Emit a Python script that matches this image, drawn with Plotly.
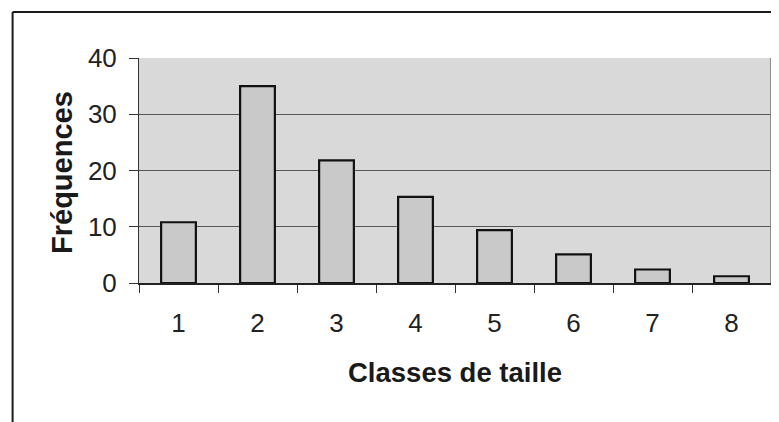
import plotly.graph_objects as go

categories = ["1", "2", "3", "4", "5", "6", "7", "8"]
frequences = [10.8, 35, 21.8, 15.3, 9.4, 5.1, 2.4, 1.2]
y_ticks = [0, 10, 20, 30, 40]

FONT = "Liberation Sans, Arial, sans-serif"

fig = go.Figure()
fig.add_trace(go.Bar(
    x=categories, y=frequences, width=0.44,
    marker=dict(color="#c9c9c9", line=dict(color="#111111", width=2.2)),
))

fig.update_layout(
    width=779, height=422,
    margin=dict(l=131, r=16, t=50, b=147),
    paper_bgcolor="white", plot_bgcolor="#d9d9d9",
    showlegend=False,
    font=dict(family=FONT, color="#222222"),
    xaxis=dict(
        type="category", range=[-0.5, 7.5],
        tickson="boundaries", ticks="outside", ticklen=8, tickwidth=1, tickcolor="#333",
        showline=True, linecolor="#222", linewidth=1.5,
        showgrid=False, tickfont=dict(size=26, family=FONT, color="#222"),
        ticklabelstandoff=16,
    ),
    yaxis=dict(
        range=[0, 40], tickvals=y_ticks,
        ticks="outside", ticklen=9, tickwidth=1, tickcolor="#333",
        showline=True, linecolor="#333", linewidth=1,
        showgrid=True, gridcolor="#555555", gridwidth=1,
        zeroline=False,
        tickfont=dict(size=26, family=FONT, color="#222"),
        ticklabelstandoff=7,
    ),
    annotations=[
        dict(text="<b>Classes de taille</b>", xref="paper", yref="paper",
             x=0.5, y=-0.396, showarrow=False, xanchor="center", yanchor="middle",
             font=dict(size=27.5, family=FONT, color="#1a1a1a")),
        dict(text="<b>Fréquences</b>", xref="paper", yref="paper",
             x=-0.122, y=0.493, showarrow=False, xanchor="center", yanchor="middle",
             textangle=-90, font=dict(size=29, family=FONT, color="#1a1a1a")),
    ],
    shapes=[
        # chart outer frame (top and left edges visible in the scan)
        dict(type="line", xref="paper", yref="paper", x0=-0.2, x1=1.1, y0=1.2044, y1=1.2044,
             line=dict(color="#1a1a1a", width=2)),
        dict(type="line", xref="paper", yref="paper", x0=-0.2, x1=-0.2, y0=1.2044, y1=-0.7,
             line=dict(color="#1a1a1a", width=2)),
        # right edge of the plot area
        dict(type="line", xref="paper", yref="paper", x0=1, x1=1, y0=0, y1=1,
             line=dict(color="#777777", width=1.5)),
    ],
)

fig.write_html("out.html")
